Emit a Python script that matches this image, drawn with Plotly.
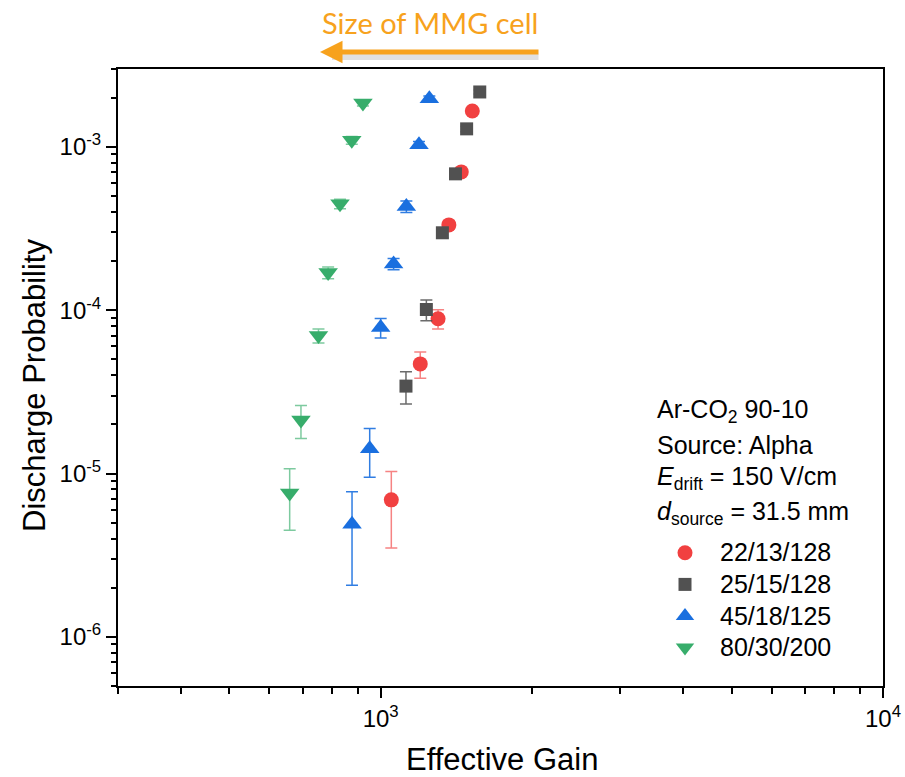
import plotly.graph_objects as go
import numpy as np

# ---------------- data ----------------
series_names = ["22/13/128", "25/15/128", "45/18/125", "80/30/200"]

red_gain = [1522, 1447, 1367, 1301, 1199, 1050]
red_p = [1.66e-3, 7.03e-4, 3.33e-4, 8.87e-5, 4.69e-5, 6.90e-6]
red_err = [5e-5, 3.5e-5, 2e-5, 1.2e-5, 8.6e-6, 3.4e-6]

gray_gain = [1575, 1483, 1409, 1327, 1233, 1123]
gray_p = [2.17e-3, 1.29e-3, 6.84e-4, 2.98e-4, 1.01e-4, 3.43e-5]
gray_err = [6e-5, 5e-5, 3.5e-5, 2e-5, 1.47e-5, 7.65e-6]

blue_gain = [1250, 1192, 1125, 1061, 1000, 951, 877]
blue_p = [1.97e-3, 1.03e-3, 4.31e-4, 1.92e-4, 7.84e-5, 1.42e-5, 4.90e-6]
blue_err = [8e-5, 5e-5, 3.5e-5, 1.5e-5, 1.07e-5, 4.7e-6, 2.83e-6]

green_gain = [922, 876, 830, 786, 752, 694, 659]
green_p = [1.86e-3, 1.10e-3, 4.48e-4, 1.70e-4, 6.99e-5, 2.125e-5, 7.6e-6]
green_err = [8e-5, 6e-5, 3e-5, 1.4e-5, 6.9e-6, 4.85e-6, 3.1e-6]

x_tickvals = [1000, 10000]
x_ticktext = ["10<sup>3</sup>", "10<sup>4</sup>"]
x_minor = [300, 400, 500, 600, 700, 800, 900, 2000, 3000, 4000, 5000, 6000, 7000, 8000, 9000]
y_tickvals = [1e-6, 1e-5, 1e-4, 1e-3]
y_ticktext = ["10<sup>-6</sup>", "10<sup>-5</sup>", "10<sup>-4</sup>", "10<sup>-3</sup>"]
y_minor = [k * 10.0 ** e for e in range(-7, -2) for k in range(2, 10)]

x_title = "Effective Gain"
y_title = "Discharge Probability"
info_lines = ["Ar-CO<sub>2</sub> 90-10", "Source: Alpha",
              "<i>E</i><sub>drift</sub> = 150 V/cm", "<i>d</i><sub>source</sub> = 31.5 mm"]
top_label = "Size of MMG cell"

# ---------------- styles ----------------
FONT = "Liberation Sans"
styles = [
    dict(color="#F14040", ecol="rgba(241,64,64,0.65)", symbol="circle", size=15),
    dict(color="#515151", ecol="rgba(81,81,81,0.85)", symbol="square", size=13),
    dict(color="#1A6FDF", ecol="rgba(26,111,223,0.9)", symbol="triangle-up", size=17),
    dict(color="#37AD6B", ecol="rgba(55,173,107,0.65)", symbol="triangle-down", size=17),
]
data = [(red_gain, red_p, red_err), (gray_gain, gray_p, gray_err),
        (blue_gain, blue_p, blue_err), (green_gain, green_p, green_err)]

fig = go.Figure()
for name, (gx, gy, ge), st in zip(series_names, data, styles):
    fig.add_trace(go.Scatter(
        x=gx, y=gy, mode="markers",
        name="<span style='font-size:25px'>" + name + "</span>",
        marker=dict(symbol=st["symbol"], size=st["size"], color=st["color"], line=dict(width=0)),
        error_y=dict(type="data", array=ge, visible=True, color=st["ecol"], thickness=1.5, width=6),
    ))

L, R, T, B = 118, 22, 69, 91
W, H = 905, 777
pw, ph = W - L - R, H - T - B

def px_x(p):
    return (p - L) / pw

def px_y(p):
    return (H - B - p) / ph

fig.update_layout(
    width=W, height=H,
    margin=dict(l=L, r=R, t=T, b=B, autoexpand=False),
    paper_bgcolor="white", plot_bgcolor="white",
    font=dict(family=FONT, color="black"),
    showlegend=True,
    legend=dict(x=px_x(650), y=px_y(532), xanchor="left", yanchor="top",
                bgcolor="rgba(0,0,0,0)", font=dict(size=22, family=FONT),
                itemwidth=60, tracegroupgap=0),
    xaxis=dict(type="log", range=[np.log10(300), 4], showline=True, linecolor="black",
               linewidth=2, mirror=True, ticks="outside", ticklen=10, tickwidth=1.5,
               tickcolor="black", tickvals=x_tickvals, ticktext=x_ticktext,
               tickfont=dict(size=24, family=FONT), automargin=False,
               minor=dict(ticks="outside", ticklen=6, tickwidth=1.5, tickcolor="black",
                          tickvals=x_minor, showgrid=False),
               showgrid=False, zeroline=False),
    yaxis=dict(type="log", range=[np.log10(5e-7), np.log10(3e-3)], showline=True,
               linecolor="black", linewidth=2, mirror=True, ticks="outside", ticklen=10,
               tickwidth=1.5, tickcolor="black", tickvals=y_tickvals, ticktext=y_ticktext,
               tickfont=dict(size=24, family=FONT), automargin=False,
               minor=dict(ticks="outside", ticklen=5, tickwidth=1.5, tickcolor="black",
                          tickvals=y_minor, showgrid=False),
               showgrid=False, zeroline=False),
)

# axis titles
fig.add_annotation(text=x_title, xref="paper", yref="paper", x=px_x(502), y=px_y(759),
                   xanchor="center", yanchor="middle", showarrow=False,
                   font=dict(size=31, family=FONT, color="black"))
fig.add_annotation(text=y_title, xref="paper", yref="paper", x=px_x(34), y=px_y(386),
                   xanchor="center", yanchor="middle", showarrow=False, textangle=-90,
                   font=dict(size=31, family=FONT, color="black"))

# info text block
for txt, yc in zip(info_lines, [411, 445, 478, 513]):
    fig.add_annotation(text=txt, xref="paper", yref="paper", x=px_x(655), y=px_y(yc),
                       xanchor="left", yanchor="middle", showarrow=False,
                       font=dict(size=25, family=FONT, color="black"))

ORANGE = "#F7A21D"
fig.add_annotation(text=top_label, xref="paper", yref="paper", x=px_x(430), y=px_y(22),
                   xanchor="center", yanchor="middle", showarrow=False,
                   font=dict(size=29, family="Lato", color=ORANGE))
# shadow of arrow
fig.add_annotation(text="", xref="paper", yref="paper", x=px_x(332), y=px_y(57),
                   ax=208, ay=0, axref="pixel", ayref="pixel", showarrow=True,
                   arrowhead=0, arrowwidth=6, arrowcolor="rgba(120,120,120,0.22)")
fig.add_annotation(text="", xref="paper", yref="paper", x=px_x(320), y=px_y(52),
                   ax=220, ay=0, axref="pixel", ayref="pixel", showarrow=True,
                   arrowhead=2, arrowsize=0.9, arrowwidth=5, arrowcolor=ORANGE)

fig.write_html("out.html")
